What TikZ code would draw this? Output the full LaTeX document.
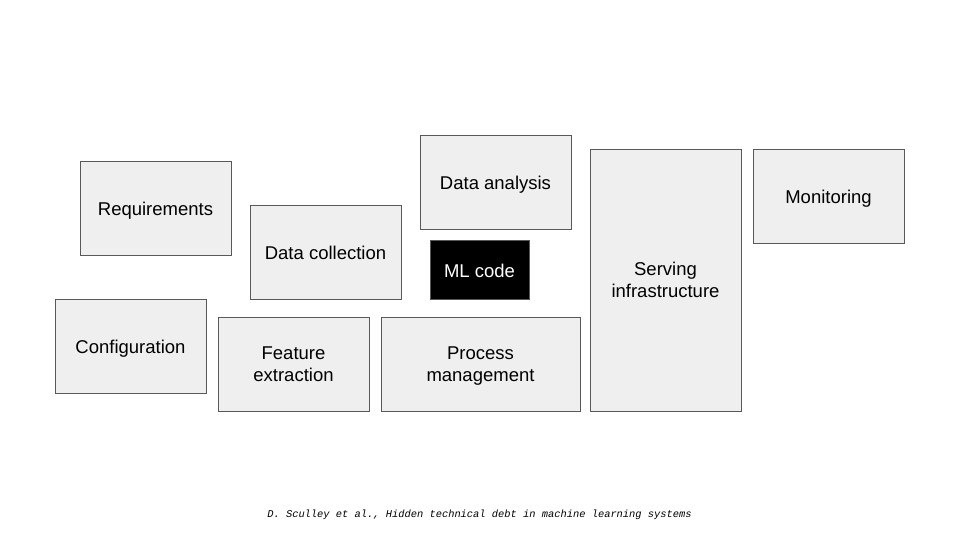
\documentclass[tikz,border=0pt]{standalone}
\usepackage{fontspec}
\setmainfont{Liberation Sans}
\newfontfamily\captionmono{Liberation Mono}
\usetikzlibrary{positioning}
\definecolor{boxfill}{HTML}{EFEFEF}
\definecolor{boxline}{HTML}{595959}

\begin{document}
\begin{tikzpicture}[x=1pt,y=-1pt,
	block/.style={shape=rectangle,draw=boxline,fill=boxfill,line width=0.8pt,inner sep=0pt},
	blocktext/.style={yshift=-3.5pt,inner sep=0pt,align=center,font=\fontsize{18.5}{22}\selectfont,
		execute at begin node=\strut,execute at end node=\strut},
	mltext/.style={blocktext,text=white}]
	\useasboundingbox (0,0) rectangle (960,540);
					\node (requirements) [block,minimum width=151pt,minimum height=94pt,
						label={[blocktext]center:Requirements}] at (155.5,208) {};
					\node (collection) [block,minimum width=151pt,minimum height=94pt,
						label={[blocktext]center:Data collection}] at (325.5,252) {};
					\node (analysis) [block,minimum width=151pt,minimum height=94pt,
						label={[blocktext]center:Data analysis}] at (495.5,182) {};
					\node (mlcode) [block,fill=black,minimum width=99pt,minimum height=59pt,
						label={[mltext]center:ML code}] at (479.5,269.5) {};
					\node (serving) [block,minimum width=151pt,minimum height=262pt,
						label={[blocktext]center:Serving\\infrastructure}] at (665.5,280) {};
					\node (monitoring) [block,minimum width=151pt,minimum height=94pt,
						label={[blocktext]center:Monitoring}] at (828.5,196) {};
					\node (configuration) [block,minimum width=151pt,minimum height=94pt,
						label={[blocktext]center:Configuration}] at (130.5,346) {};
					\node (extraction) [block,minimum width=151pt,minimum height=94pt,
						label={[blocktext]center:Feature\\extraction}] at (293.5,364) {};
					\node (process) [block,minimum width=199pt,minimum height=94pt,
						label={[blocktext]center:Process\\management}] at (480.5,364) {};

					\node (citation) at (479.5,515) {\captionmono\itshape\fontsize{10.4}{12}\selectfont D. Sculley et al., Hidden technical debt in machine learning systems};
				\end{tikzpicture}
\end{document}
